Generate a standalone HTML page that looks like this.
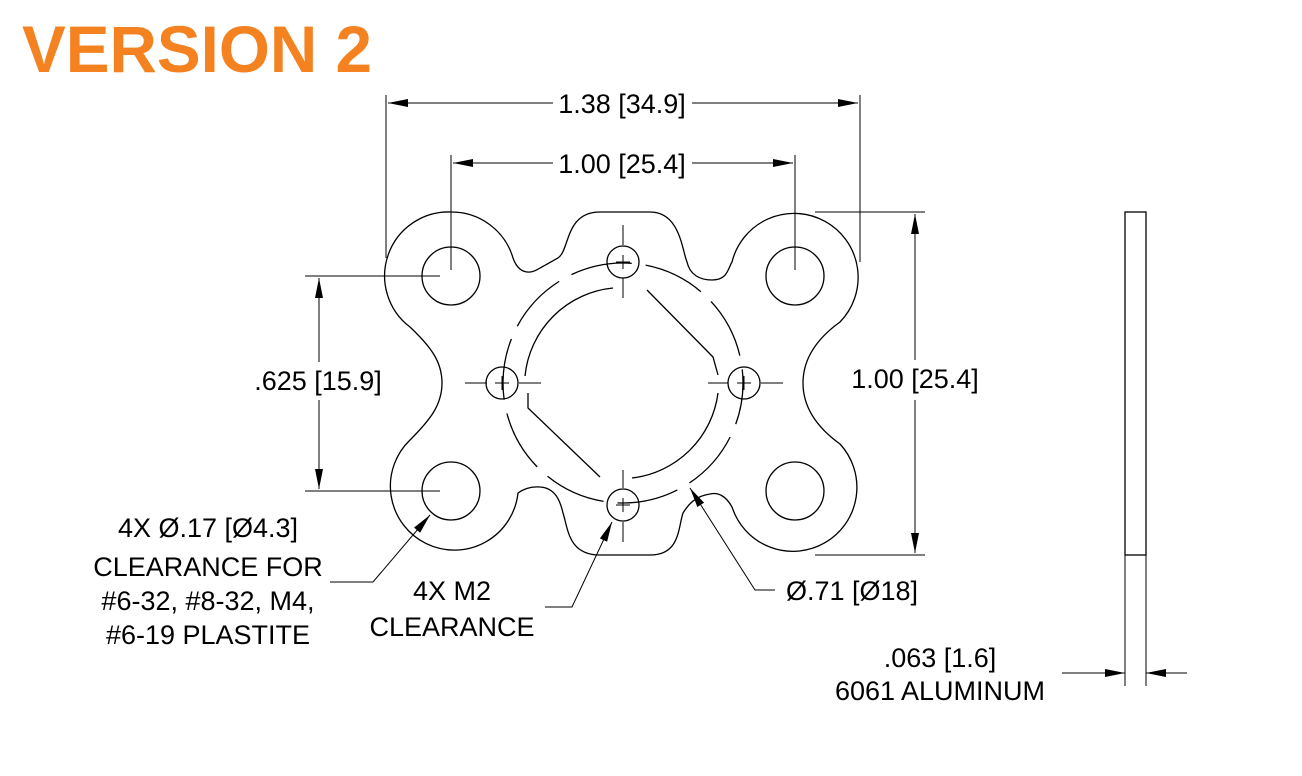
<!DOCTYPE html>
<html><head><style>html,body{margin:0;padding:0;background:#fff}</style></head><body>
<svg width="1302" height="771" viewBox="0 0 1302 771" xmlns="http://www.w3.org/2000/svg" font-family="Liberation Sans, sans-serif">
<defs><marker id="a" viewBox="0 0 20 8" refX="20" refY="4" markerWidth="20" markerHeight="8" markerUnits="userSpaceOnUse" orient="auto"><path d="M0 0L20 4L0 8Z" fill="#000"/></marker></defs>
<text x="22" y="72" font-size="66" font-weight="bold" fill="#F58220" textLength="350" lengthAdjust="spacingAndGlyphs">VERSION 2</text>
<g fill="none" stroke="#000" stroke-width="1.3">
<path d="M451 212 A64 64 0 0 1 513 258 C518 272 528 276 540 268 L558 258 C570 250 565 212 600 212 L650 212 C680 212 682 250 687 262 C690 275 700 280 712 280 C728 280 728 268 732 262 A64 64 0 1 1 840 322 C815 340 803 360 803 383 C803 406 815 426 840 444 A64 64 0 1 1 732 507 C726 496 718 492 710 494 C695 496 688 505 683 513 C678 528 680 555 650 555 L600 555 C568 555 568 528 563 513 C560 500 555 488 540 487 C530 486 522 490 518 493 A64 64 0 1 1 410 440 C430 420 442 405 442 383 C442 361 430 346 410 327 A64 64 0 0 1 451 212 Z"/>
<circle cx="451" cy="276" r="29"/><circle cx="795" cy="276" r="29"/><circle cx="451" cy="491" r="29"/><circle cx="795" cy="491" r="29"/>
<circle cx="623" cy="262" r="16"/><circle cx="623" cy="505" r="16"/><circle cx="502" cy="383" r="16"/><circle cx="744" cy="383" r="16"/>
<circle cx="623" cy="383" r="120" stroke-dasharray="62 14" stroke-dashoffset="20"/>
<path d="M613 288 A98 98 0 0 0 525 376 M647 290 L713 357 L718 375 M718 393 A98 98 0 0 1 632 478 M600 477 L528 408 L528 393"/>
<path d="M616 262h14M623 255v14M616 505h14M623 498v14M495 383h14M502 376v14M737 383h14M744 376v14" stroke-width="1"/>
<path d="M623 225v20M623 278v20M623 470v18M623 522v20M465 383h22M519 383h22M708 383h20M761 383h22" stroke-width="1"/>
<path d="M386 95V258M860 95V262M451 155V270M795 155V270M815 212H925M815 555H925M305 276H440M305 491H440" stroke-width="1"/>
<g stroke-width="1">
<path d="M553 103H388" marker-end="url(#a)"/><path d="M692 103H858" marker-end="url(#a)"/>
<path d="M553 163H453" marker-end="url(#a)"/><path d="M692 163H793" marker-end="url(#a)"/>
<path d="M915 360V214" marker-end="url(#a)"/><path d="M915 400V553" marker-end="url(#a)"/>
<path d="M319 365V278" marker-end="url(#a)"/><path d="M319 400V489" marker-end="url(#a)"/>
<path d="M330 582H373L430 515" marker-end="url(#a)"/>
<path d="M545 607H572L612 522" marker-end="url(#a)"/>
<path d="M775 590H755L690 488" marker-end="url(#a)"/>
<path d="M1062 673H1125" marker-end="url(#a)"/><path d="M1187 673H1146" marker-end="url(#a)"/>
</g>
<rect x="1125" y="212" width="21" height="343"/>
<path d="M1125 555V686M1146 555V686" stroke-width="1"/>
</g>
<g font-size="27" fill="#000" text-anchor="middle">
<rect x="555" y="85" width="135" height="40" fill="#fff"/>
<text x="622" y="113">1.38 [34.9]</text>
<text x="622" y="173">1.00 [25.4]</text>
<rect x="845" y="362" width="140" height="36" fill="#fff"/>
<text x="915" y="388">1.00 [25.4]</text>
<rect x="250" y="362" width="140" height="36" fill="#fff"/>
<text x="318" y="390">.625 [15.9]</text>
<text x="208" y="537">4X Ø.17 [Ø4.3]</text>
<text x="208" y="576">CLEARANCE FOR</text>
<text x="208" y="610">#6-32, #8-32, M4,</text>
<text x="208" y="644">#6-19 PLASTITE</text>
<text x="452" y="600">4X M2</text>
<text x="452" y="636">CLEARANCE</text>
<text x="852" y="600">Ø.71 [Ø18]</text>
<text x="940" y="667">.063 [1.6]</text>
<text x="940" y="700">6061 ALUMINUM</text>
</g>
</svg>
</body></html>
